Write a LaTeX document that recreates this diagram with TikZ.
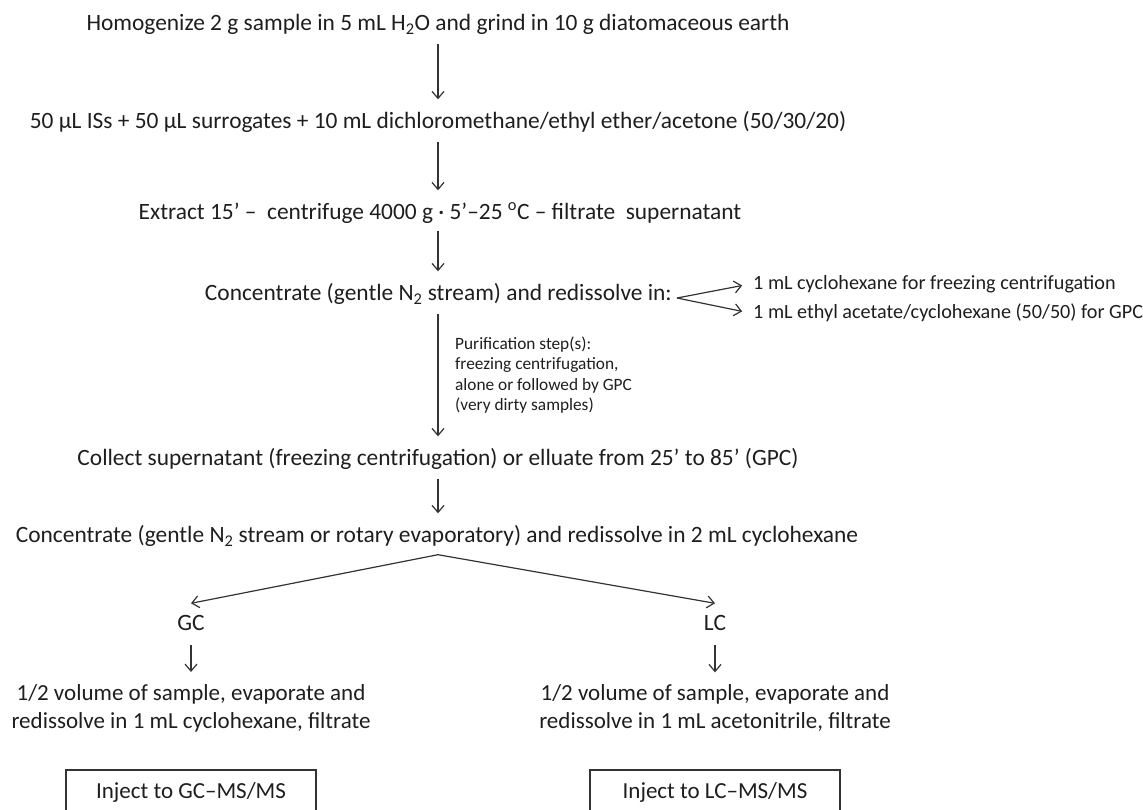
\documentclass[tikz,border=0pt]{standalone}
\usepackage{fontspec}
\setmainfont{Carlito}
\usetikzlibrary{arrows.meta}
\definecolor{ink}{HTML}{1E1E1E}
\definecolor{lin}{HTML}{333333}
\begin{document}
\begin{tikzpicture}[x=1pt,y=-1pt,
  txt/.style={inner sep=3pt, text height=16pt, text depth=5pt, font=\fontsize{23.4}{28}\selectfont, text=ink},
  side/.style={inner sep=3pt, font=\fontsize{20.2}{24}\selectfont, text=ink},
  note/.style={inner sep=0pt, align=left, font=\fontsize{17.3}{20.4}\selectfont, text=ink},
  blk/.style={inner sep=3pt, align=center, font=\fontsize{23}{28}\selectfont, text=ink},
  boxn/.style={draw=lin, line width=1.1pt, inner sep=3pt, minimum width=250pt, minimum height=44pt, font=\fontsize{23}{28}\selectfont, text=ink},
  arr/.style={draw=lin, line width=1.2pt, -{Straight Barb[length=7pt,width=12pt]}, shorten <=5pt, shorten >=10pt},
  fork/.style={draw=lin, line width=1.2pt, -{Straight Barb[length=7pt,width=12pt]}}]
\useasboundingbox (0,0) rectangle (1143,809);
\clip (0,0) rectangle (1143,809);
\coordinate (ax) at (438,0);
\node[txt] (L1) at (438,25) {Homogenize 2 g sample in 5 mL H\textsubscript{2}O and grind in 10 g diatomaceous earth};
\node[txt] (L2) at (438,123) {50 µL ISs + 50 µL surrogates + 10 mL dichloromethane/ethyl ether/acetone (50/30/20)};
\node[txt] (L3) at (440,214) {Extract 15’ – \ centrifuge 4000 g · 5’–25 \textsuperscript{o}C – filtrate \ supernatant};
\node[txt, anchor=east] (L4) at (675,295) {Concentrate (gentle N\textsubscript{2} stream) and redissolve in:};
\node[side, anchor=west] (S1) at (750,284) {1 mL cyclohexane for freezing centrifugation};
\node[side, anchor=west] (S2) at (750,313) {1 mL ethyl acetate/cyclohexane (50/50) for GPC};
\node[note, anchor=west] (P) at (455,375) {Purification step(s):\\freezing centrifugation,\\alone or followed by GPC\\(very dirty samples)};
\node[txt] (L5) at (438,460) {Collect supernatant (freezing centrifugation) or elluate from 25’ to 85’ (GPC)};
\node[txt] (L6) at (437,537) {Concentrate (gentle N\textsubscript{2} stream or rotary evaporatory) and redissolve in 2 mL cyclohexane};
\node[txt] (GC) at (191,625) {GC};
\node[txt] (LC) at (715,625) {LC};
\node[blk] (GB) at (191,708) {1/2 volume of sample, evaporate and\\redissolve in 1 mL cyclohexane, filtrate};
\node[blk] (LB) at (715,708) {1/2 volume of sample, evaporate and\\redissolve in 1 mL acetonitrile, filtrate};
\node[boxn] (GX) at (191,792) {Inject to GC–MS/MS};
\node[boxn] (LX) at (715,792) {Inject to LC–MS/MS};
\draw[arr] (L1.south -| ax) -- (L2.north -| ax);
\draw[arr] (L2.south -| ax) -- (L3.north -| ax);
\draw[arr, shorten <=3pt] (L3.south -| ax) -- (L4.north -| ax);
\draw[arr] (L4.south -| ax) -- (L5.north -| ax);
\draw[arr] (L5.south -| ax) -- (L6.north -| ax);
\coordinate (apex) at ([yshift=-4pt]L6.south -| ax);
\draw[fork] (apex) -- ([yshift=8pt]GC.north);
\draw[fork] (apex) -- ([yshift=8pt]LC.north);
\draw[arr, shorten <=6pt, shorten >=9pt] (GC.south) -- (GB.north);
\draw[arr, shorten <=6pt, shorten >=9pt] (LC.south) -- (LB.north);
\coordinate (split) at ([xshift=2pt,yshift=-3pt]L4.east);
\draw[fork, shorten >=8pt] (split) -- (S1.west);
\draw[fork, shorten >=8pt] (split) -- (S2.west);
\end{tikzpicture}
\end{document}
